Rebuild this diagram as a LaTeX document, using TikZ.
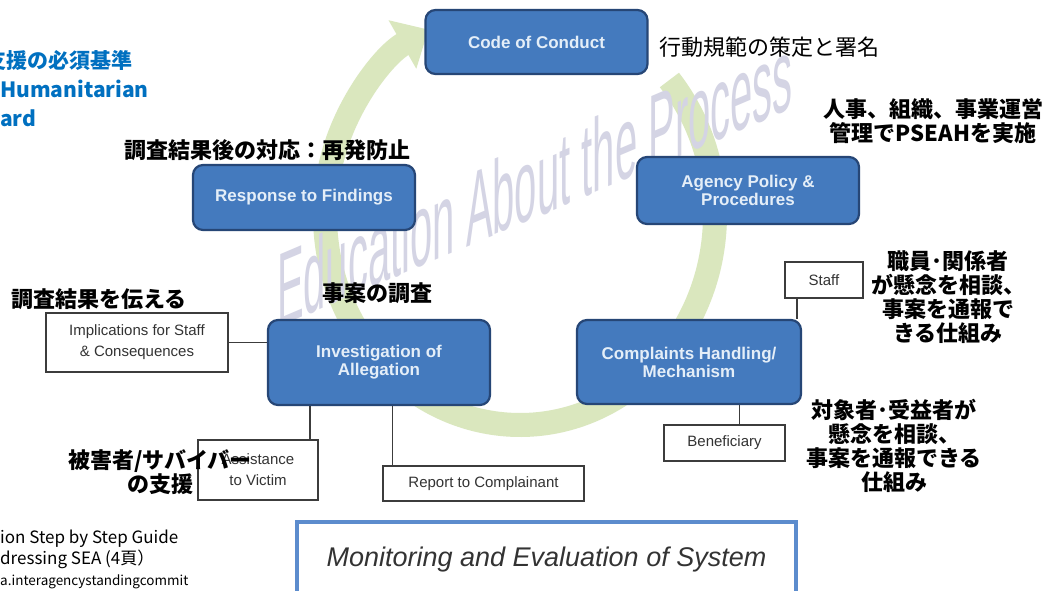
\documentclass[tikz,border=0pt]{standalone}
\usepackage{fontspec}
\setmainfont{Liberation Sans}
\newfontfamily\jpfont{Noto Sans CJK JP}
\usetikzlibrary{arrows.meta}

\definecolor{boxblue}{RGB}{68,122,190}
\definecolor{boxedge}{RGB}{38,70,118}
\definecolor{boxtext}{RGB}{228,238,248}
\definecolor{ringgreen}{RGB}{218,231,190}
\definecolor{markgray}{RGB}{212,212,228}
\definecolor{framegray}{RGB}{60,60,60}
\definecolor{headblue}{RGB}{0,112,192}
\definecolor{monblue}{RGB}{92,140,205}

\tikzset{
  stage/.style={draw=boxedge, fill=boxblue, line width=2.2pt, rounded corners=10pt,
    text=boxtext, font=\fontsize{17}{18}\selectfont\bfseries, align=center,
    minimum width=222pt, inner sep=0pt},
  side/.style={draw=framegray, fill=white, line width=1.1pt, text=black!80,
    font=\fontsize{15}{21}\selectfont, align=center, inner sep=0pt},
  note/.style={font=\jpfont\bfseries\fontsize{22}{24}\selectfont, align=center, inner sep=0pt},
  link/.style={draw=framegray, line width=1.1pt},
}

\begin{document}
\begin{tikzpicture}[x=1pt,y=-1pt]
  \useasboundingbox[fill=white] (0,0) rectangle (1049,591);
  %% ring behind everything
  \draw[ringgreen, line width=24pt, -{Triangle[length=30pt,width=54pt]}]
    (520,215) ++(-40:195 and 210) arc[start angle=-40, end angle=242, x radius=195, y radius=210];
  \begin{scope}[shift={(535,218)}]
    \node[text=markgray, font=\fontsize{40}{40}\selectfont, transform shape,
      yslant=0.425, yscale=2.6, anchor=base, inner sep=0pt] (mark) at (0,0) {Education About the Process};
  \end{scope}

  %% main steps
  \node[stage, minimum height=64pt] (code) at (536.5,42) {Code of Conduct};
  \node[stage, minimum height=65pt] (resp) at (304,197.5) {Response to Findings};
  \node[stage, minimum height=67pt] (agency) at (748,190.5) {Agency Policy \&\\Procedures};
  \node[stage, minimum height=85pt] (inv) at (379,362.5) {Investigation of\\Allegation};
  \node[stage, minimum width=224pt, minimum height=84pt] (compl) at (689,362) {Complaints Handling/\\Mechanism};

  %% side boxes
  \node[side, minimum width=182pt, minimum height=59pt] (impl) at (137,342.5) {Implications for Staff\\\& Consequences};
  \node[side, minimum width=120pt, minimum height=60pt] (assist) at (258,470) {Assistance\\to Victim};
  \node[side, minimum width=201pt, minimum height=35pt] (report) at (483.5,483.5) {Report to Complainant};
  \node[side, minimum width=78pt, minimum height=36pt] (staff) at (824,280) {Staff};
  \node[side, minimum width=121pt, minimum height=36pt] (bene) at (724.5,443) {Beneficiary};

  \draw[link] (impl.east) -- (impl.east -| inv.west);
  \draw[link] ([xshift=52pt]assist.north) -- ([xshift=52pt]assist.north |- inv.south);
  \draw[link] ([xshift=-91pt]report.north) -- ([xshift=-91pt]report.north |- inv.south);
  \draw[link] ([xshift=-27pt]staff.south) -- ([xshift=-27pt]staff.south |- compl.north);
  \draw[link] ([xshift=15pt]bene.north) -- ([xshift=15pt]bene.north |- compl.south);

  \node[draw=monblue, line width=4pt, minimum width=499pt, minimum height=76pt, anchor=north west,
    font=\fontsize{27}{30}\selectfont\itshape, text=black!80] (mon) at (295,520) {Monitoring and Evaluation of System};

  %% japanese notes
  \node[note, font=\jpfont\fontsize{22}{24}\selectfont, anchor=west] (codenote) at (659,47) {行動規範の策定と署名};
  \node[note] (agencynote) at (933,121) {人事、組織、事業運営\\管理でPSEAHを実施};
  \node[note] (respnote) at (267,150) {調査結果後の対応：再発防止};
  \node[note] (invnote) at (377,293) {事案の調査};
  \node[note] (implnote) at (99,299) {調査結果を伝える};
  \node[note] (staffnote) at (948,297) {職員･関係者\\が懸念を相談、\\事案を通報で\\きる仕組み};
  \node[note] (benenote) at (894,446) {対象者･受益者が\\懸念を相談、\\事案を通報できる\\仕組み};
  \node[note] (assistnote) at (160,472) {被害者/サバイバー\\の支援};

  %% cut-off text at the left edge
  \node[anchor=north west, align=left, text=headblue, inner sep=0pt,
    font=\jpfont\bfseries\fontsize{21}{29}\selectfont] (head) at (0,50) {\hspace*{-15pt}支援の必須基準\\Humanitarian\\ard};
  \node[anchor=north west, align=left, inner sep=0pt,
    font=\jpfont\fontsize{17}{21}\selectfont] (src) at (0,530) {ion Step by Step Guide\\dressing SEA (4頁）\\{\fontsize{13.5}{16}\selectfont a.interagencystandingcommit}};
\end{tikzpicture}
\end{document}
